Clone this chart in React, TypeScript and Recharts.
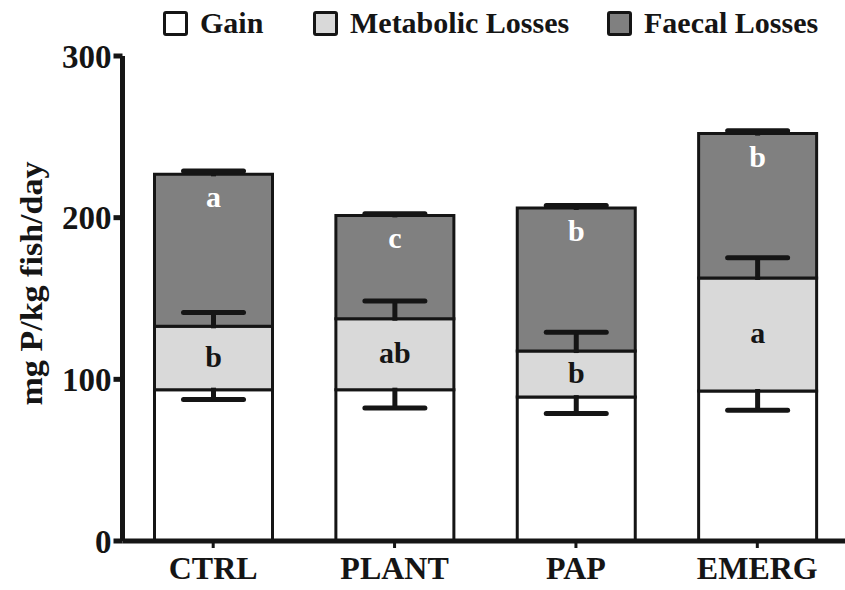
import React from 'react';
import { BarChart, Bar, XAxis, YAxis, LabelList } from 'recharts';

const categories = ['CTRL', 'PLANT', 'PAP', 'EMERG'];
const gain = [93.6, 93.6, 89.0, 92.8];
const metabolic = [39.2, 43.9, 28.5, 69.9];
const faecal = [94.0, 63.9, 88.5, 89.3];
const gainErr = [6.0, 11.3, 10.2, 12.0];
const metabolicErr = [8.6, 10.9, 11.6, 12.5];
const faecalErr = [2.0, 1.0, 1.5, 1.8];
const metabolicLetters = ['b', 'ab', 'b', 'a'];
const faecalLetters = ['a', 'c', 'b', 'b'];
const yTicks = [0, 100, 200, 300];

const seriesNames = ['Gain', 'Metabolic Losses', 'Faecal Losses'];
const seriesColors = ['#ffffff', '#d9d9d9', '#808080'];

const data = categories.map((name, i) => ({
  name,
  gain: gain[i],
  metabolic: metabolic[i],
  faecal: faecal[i],
  gainErr: gainErr[i],
  metErr: metabolicErr[i],
  faecalErr: faecalErr[i],
  metLetter: metabolicLetters[i],
  faecalLetter: faecalLetters[i],
}));

const FONT = '"Liberation Serif", "Times New Roman", serif';
const INK = '#151515';

const legendWidths = [150, 294, 240];

// One-sided error bar drawn from the bar geometry given by Recharts
const makeErr = (segValues: number[], dir: 'up' | 'down') => (props: any) => {
  const { x, y, width, height, value, index } = props;
  const segVal = segValues[index];
  if (!segVal || !height) return null;
  const k = Math.abs(Number(height)) / segVal;
  const len = Number(value) * k;
  const top = Math.min(Number(y), Number(y) + Number(height));
  const cx = Number(x) + Number(width) / 2;
  const y0 = dir === 'down' ? top - 2 : top + 2;
  const y1 = dir === 'down' ? top + len : top - len;
  return (
    <g>
      <line x1={cx} y1={y0} x2={cx} y2={y1} stroke={INK} strokeWidth={5} />
      <line x1={cx - 30} y1={y1} x2={cx + 30} y2={y1} stroke={INK} strokeWidth={5} strokeLinecap="round" />
    </g>
  );
};

const GainErr = makeErr(gain, 'down');
const MetErr = makeErr(metabolic, 'up');
const FaecalErr = makeErr(faecal, 'up');

const FaecalLabel = (props: any) => {
  const { x, y, width, value } = props;
  return (
    <text
      x={Number(x) + Number(width) / 2}
      y={Number(y) + 33}
      textAnchor="middle"
      fill="#ffffff"
      fontFamily={FONT}
      fontWeight="bold"
      fontSize={30}
    >
      {value}
    </text>
  );
};

const MetLabel = (props: any) => {
  const { x, y, width, height, value } = props;
  return (
    <text
      x={Number(x) + Number(width) / 2}
      y={Number(y) + Number(height) / 2}
      dy="0.3em"
      textAnchor="middle"
      fill={INK}
      fontFamily={FONT}
      fontWeight="bold"
      fontSize={30}
    >
      {value}
    </text>
  );
};

const YLabel = (props: any) => {
  const vb = props.viewBox || { x: 0, y: 0, width: 0, height: 0 };
  const cx = vb.x + 31;
  const cy = vb.y + vb.height / 2 - 15;
  return (
    <text
      x={cx}
      y={cy}
      transform={`rotate(-90, ${cx}, ${cy})`}
      textAnchor="middle"
      dominantBaseline="central"
      fill={INK}
      fontFamily={FONT}
      fontWeight="bold"
      fontSize={31}
      textLength={244}
      lengthAdjust="spacingAndGlyphs"
    >
      mg P/kg fish/day
    </text>
  );
};

export default function App() {
  return (
    <div
      style={{
        position: 'absolute',
        left: 0,
        top: 0,
        width: 845,
        height: 590,
        overflow: 'hidden',
        background: '#ffffff',
      }}
    >
      <div
        style={{
          position: 'absolute',
          left: 163,
          top: 6,
          display: 'flex',
          alignItems: 'center',
          fontFamily: FONT,
          fontWeight: 'bold',
          fontSize: 30,
          color: INK,
          zIndex: 2,
        }}
      >
        {seriesNames.map((n, i) => (
          <div key={n} style={{ display: 'flex', alignItems: 'center', width: legendWidths[i] }}>
            <div
              style={{
                width: 19,
                height: 19,
                border: `3px solid ${INK}`,
                borderRadius: 3,
                background: seriesColors[i],
                marginRight: 12,
              }}
            />
            <span style={{ whiteSpace: 'nowrap' }}>{n}</span>
          </div>
        ))}
      </div>
      <BarChart
        width={848}
        height={590}
        data={data}
        margin={{ top: 56, right: 0, bottom: 0, left: 0 }}
        barSize={118}
      >
        <XAxis
          dataKey="name"
          height={49}
          axisLine={{ stroke: INK, strokeWidth: 5 }}
          tickLine={{ stroke: INK, strokeWidth: 3 }}
          tickSize={7}
          tickMargin={8}
          tick={{ fill: INK, fontFamily: FONT, fontWeight: 'bold', fontSize: 32 }}
        />
        <YAxis
          width={122.5}
          domain={[0, 300]}
          ticks={yTicks}
          interval={0}
          axisLine={{ stroke: INK, strokeWidth: 5 }}
          tickLine={{ stroke: INK, strokeWidth: 5 }}
          tickSize={9}
          tickMargin={2}
          tick={{ fill: INK, fontFamily: FONT, fontWeight: 'bold', fontSize: 33 }}
          label={<YLabel />}
        />
        <Bar dataKey="gain" name={seriesNames[0]} stackId="s" fill={seriesColors[0]} stroke={INK} strokeWidth={3} isAnimationActive={false}>
          <LabelList dataKey="gainErr" content={GainErr} />
        </Bar>
        <Bar dataKey="metabolic" name={seriesNames[1]} stackId="s" fill={seriesColors[1]} stroke={INK} strokeWidth={3} isAnimationActive={false}>
          <LabelList dataKey="metErr" content={MetErr} />
          <LabelList dataKey="metLetter" content={<MetLabel />} />
        </Bar>
        <Bar dataKey="faecal" name={seriesNames[2]} stackId="s" fill={seriesColors[2]} stroke={INK} strokeWidth={3} isAnimationActive={false}>
          <LabelList dataKey="faecalErr" content={FaecalErr} />
          <LabelList dataKey="faecalLetter" content={<FaecalLabel />} />
        </Bar>
      </BarChart>
    </div>
  );
}
